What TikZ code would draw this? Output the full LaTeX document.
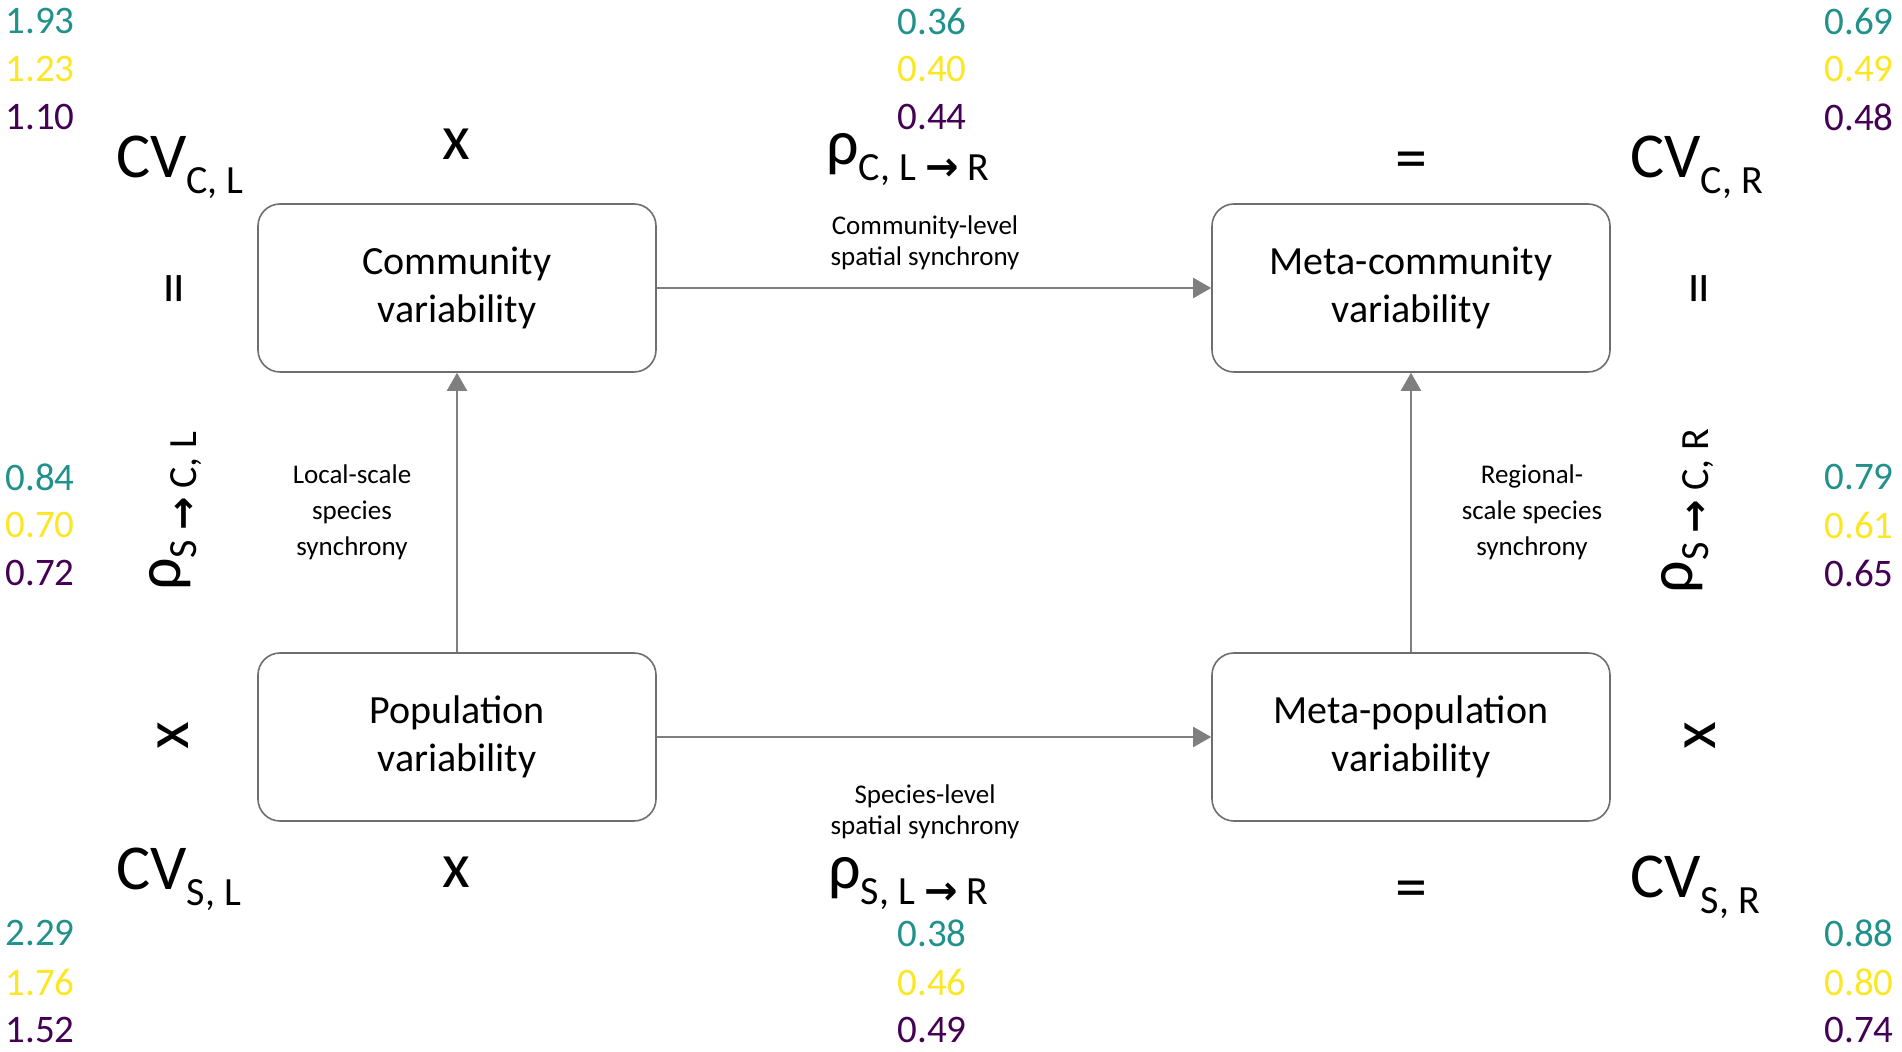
\documentclass[tikz,border=0pt]{standalone}
\usepackage{fontspec}
\setmainfont{Carlito}
\newfontfamily\arrowfont{DejaVu Sans}
\usetikzlibrary{arrows.meta}
\definecolor{vteal}{HTML}{21918C}
\definecolor{vyellow}{HTML}{FDE725}
\definecolor{vpurple}{HTML}{440154}
\definecolor{boxgray}{HTML}{6E6E6E}
\definecolor{arrgray}{HTML}{7F7F7F}
\newcommand{\bigf}{\fontsize{32}{38}\selectfont}
\newcommand{\lowsub}[1]{\raisebox{-8pt}{\fontsize{20}{22}\selectfont #1}}
\newcommand{\rarr}{{\arrowfont\bfseries →}}
\begin{document}
\begin{tikzpicture}[x=0.5pt,y=-0.5pt,
  box/.style={draw=boxgray, line width=0.8pt, rounded corners=11pt, minimum width=199pt, minimum height=84pt, inner sep=0pt, align=center, font=\fontsize{20}{24}\selectfont},
  conn/.style={draw=arrgray, line width=1pt, -{Triangle[length=9pt,width=10pt]}},
  num/.style={inner sep=0pt, font=\fontsize{19.5}{22}\selectfont},
  big/.style={inner sep=0pt, font=\bigf},
  lbl/.style={inner sep=0pt, align=center, font=\fontsize{13.5}{15.5}\selectfont},
  sidelbl/.style={inner sep=0pt, align=center, font=\fontsize{13.5}{18}\selectfont}
]
\useasboundingbox (0,0) rectangle (1902,1052);
\fill[white] (0,0) rectangle (1902,1052);

% boxes
\node[box] (comm)  at (457,288)  {Community\\variability};
\node[box] (mcomm) at (1411,288) {Meta-community\\variability};
\node[box] (pop)   at (457,737)  {Population\\variability};
\node[box] (mpop)  at (1411,737) {Meta-population\\variability};

% connectors
\draw[conn] (comm.east) -- (mcomm.west);
\draw[conn] (pop.east) -- (mpop.west);
\draw[conn] (pop.north) -- (comm.south);
\draw[conn] (mpop.north) -- (mcomm.south);

% connector labels
\node[lbl] (lcl) at (925,243) {Community-level\\spatial synchrony};
\node[lbl] (lsl) at (925,812) {Species-level\\spatial synchrony};
\node[sidelbl] (lls) at (352,512) {Local-scale\\species\\synchrony};
\node[sidelbl] (lrs) at (1532,512) {Regional-\\scale species\\synchrony};

% top row
\node[big, anchor=base west] (cvcl) at (116,178) {CV\lowsub{C, L}};
\node[big, anchor=base] (xtop) at (456,160) {x};
\node[big, anchor=base west] (rhoc) at (826,165) {ρ\lowsub{C, L \rarr\ R}};
\node[big] (eqtop) at (1411,166) {=};
\node[big, anchor=base west] (cvcr) at (1630,178) {CV\lowsub{C, R}};

% side columns
\node[big, rotate=90] (eql) at (181,289) {=};
\node[big, rotate=90] (rhol) at (176,511) {ρ\lowsub{S \rarr\ C, L}};
\node[big, rotate=90] (xl) at (173,736) {x};
\node[big, rotate=90] (eqr) at (1706,289) {=};
\node[big, rotate=90] (rhor) at (1688,511) {ρ\lowsub{S \rarr\ C, R}};
\node[big, rotate=90] (xr) at (1700,736) {x};

% bottom row
\node[big, anchor=base west] (cvsl) at (116,890) {CV\lowsub{S, L}};
\node[big, anchor=base] (xbot) at (456,888) {x};
\node[big, anchor=base west] (rhos) at (828,889) {ρ\lowsub{S, L \rarr\ R}};
\node[big] (eqbot) at (1411,895) {=};
\node[big, anchor=base west] (cvsr) at (1630,898) {CV\lowsub{S, R}};

% numbers: left column
\node[num, anchor=west, text=vteal]   (n1) at (5,21)  {1.93};
\node[num, anchor=west, text=vyellow] (n2) at (5,69)  {1.23};
\node[num, anchor=west, text=vpurple] (n3) at (5,117) {1.10};
\node[num, anchor=west, text=vteal]   (n4) at (5,477) {0.84};
\node[num, anchor=west, text=vyellow] (n5) at (5,525) {0.70};
\node[num, anchor=west, text=vpurple] (n6) at (5,573) {0.72};
\node[num, anchor=west, text=vteal]   (n7) at (5,933) {2.29};
\node[num, anchor=west, text=vyellow] (n8) at (5,982) {1.76};
\node[num, anchor=west, text=vpurple] (n9) at (5,1030) {1.52};
% middle column
\node[num, anchor=west, text=vteal]   (m1) at (897,21)  {0.36};
\node[num, anchor=west, text=vyellow] (m2) at (897,69)  {0.40};
\node[num, anchor=west, text=vpurple] (m3) at (897,117) {0.44};
\node[num, anchor=west, text=vteal]   (m7) at (897,933) {0.38};
\node[num, anchor=west, text=vyellow] (m8) at (897,982) {0.46};
\node[num, anchor=west, text=vpurple] (m9) at (897,1030) {0.49};
% right column
\node[num, anchor=east, text=vteal]   (r1) at (1894,21)  {0.69};
\node[num, anchor=east, text=vyellow] (r2) at (1894,69)  {0.49};
\node[num, anchor=east, text=vpurple] (r3) at (1894,117) {0.48};
\node[num, anchor=east, text=vteal]   (r4) at (1894,477) {0.79};
\node[num, anchor=east, text=vyellow] (r5) at (1894,525) {0.61};
\node[num, anchor=east, text=vpurple] (r6) at (1894,573) {0.65};
\node[num, anchor=east, text=vteal]   (r7) at (1894,933) {0.88};
\node[num, anchor=east, text=vyellow] (r8) at (1894,982) {0.80};
\node[num, anchor=east, text=vpurple] (r9) at (1894,1030) {0.74};
\end{tikzpicture}
\end{document}
